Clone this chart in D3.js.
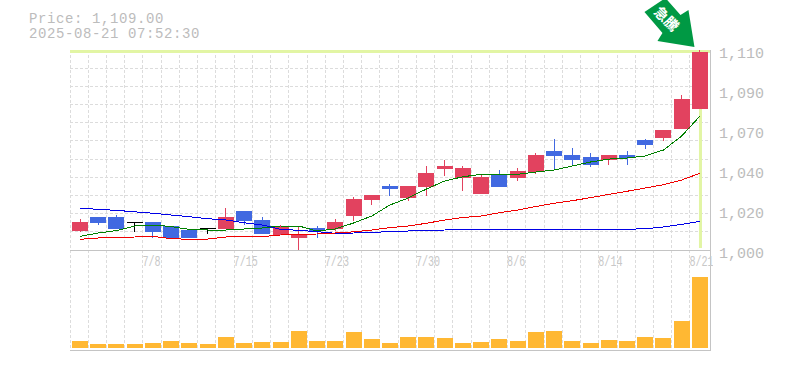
<!DOCTYPE html>
<html>
<head>
<meta charset="utf-8">
<script src="https://cdn.jsdelivr.net/npm/d3@7"></script>
<style>
html, body { margin: 0; padding: 0; background: #fff; }
svg { display: block; }
text { font-family: "Liberation Mono", monospace; fill: #bcbcbc; }
</style>
</head>
<body>
<div id="chart"></div>
<script>
const dates = ['7/2','7/3','7/4','7/7','7/8','7/9','7/10','7/11','7/14','7/15','7/16','7/17','7/18','7/22','7/23','7/24','7/25','7/28','7/29','7/30','7/31','8/1','8/4','8/5','8/6','8/7','8/8','8/12','8/13','8/14','8/15','8/18','8/19','8/20','8/21'];
const opens = [1010.45,1018.15,1018.15,1015.2,1015.4,1013.2,1011,1012.1,1011.55,1021.45,1016.5,1008.25,1006.6,1012.1,1011.55,1018.7,1027.5,1035.2,1028.6,1034.65,1044.55,1039.6,1030.8,1041.25,1039.6,1042.9,1054.45,1052.25,1051.15,1049.5,1052.25,1060.5,1061.6,1066.55,1077.55];
const closes = [1015.4,1014.85,1011.55,1015.2,1009.9,1006.6,1006.6,1012.1,1018.15,1015.95,1008.8,1013.2,1008.4,1010.45,1015.4,1028.05,1030.25,1033.55,1035.2,1042.35,1046.2,1045.1,1040.15,1034.65,1043.45,1052.25,1051.7,1049.5,1046.75,1052.25,1050.6,1057.75,1066,1083.05,1109];
const highs = [1017,1018.15,1019.25,1015.2,1015.4,1013.2,1011,1012.1,1023.1,1021.45,1018.15,1013.75,1013.2,1013.2,1017.05,1029.15,1030.25,1036.3,1035.2,1046.2,1049.5,1046.2,1041.8,1044,1045.1,1053.35,1061.05,1056.1,1053.35,1052.25,1054.45,1061.05,1066,1085.25,1110];
const lows = [1009.9,1013.75,1011.55,1009.9,1006.6,1006.6,1006.6,1008.8,1011.55,1013.75,1008.8,1008.25,1000,1006.6,1010.45,1015.95,1024.75,1029.7,1026.95,1029.7,1040.7,1032.45,1030.8,1034.65,1038,1041.8,1044,1046.75,1045.65,1046.75,1046.75,1055.55,1060,1066.55,1077.55];
const volumes = [7,4,4,4,5,7,5,4,11,5,6,6,17,7,7,16,9,5,11,11,10,5,6,9,7,16,17,7,5,8,7,11,10,27,71];
const maShort = [1007.5,1009.35,1010.7,1013.2,1013.75,1012.9,1011.3,1011,1011,1011.55,1012.1,1013.2,1013.2,1010.45,1011.55,1014.85,1018.7,1024.75,1028.6,1033.55,1037.95,1040.3,1041.6,1041.6,1041.6,1042.9,1044,1046.2,1048.4,1050,1050.6,1051.7,1055,1062.7,1073.7];
const maMiddle = [1005.9,1006.6,1007,1007.15,1007.5,1006.2,1005.9,1006,1007.15,1007.4,1007.4,1008.25,1008.65,1008.8,1009.35,1010,1011,1012.3,1013.2,1014.7,1016.5,1017.9,1018.7,1020.5,1022,1023.9,1025.7,1027.1,1028.8,1030.6,1032.3,1034.1,1035.9,1038.5,1042.2];
const maLong = [1022.9,1022.4,1021.8,1021,1020.2,1019.25,1018.3,1017.2,1016.5,1015,1013.75,1011.4,1010.8,1010.1,1009.2,1009.35,1009.7,1010.1,1010.45,1010.8,1011,1011.2,1011.4,1011.4,1011.4,1011.4,1011.4,1011.4,1011.4,1011.4,1011.4,1011.7,1012.65,1014.1,1015.8];
const priceTicks = [1000,1022,1044,1066,1088,1110];
const priceLabels = ['1,000','1,020','1,040','1,070','1,090','1,110'];
const dateTicks = ['7/8','7/15','7/23','7/30','8/6','8/14','8/21'];

const width = 785, height = 370;
const plotLeft = 70, plotRight = 710, plotTop = 50, plotMid = 250, plotBottom = 350;

const svg = d3.select('#chart').append('svg')
    .attr('width', width)
    .attr('height', height);

// slots stop just short of the right border
const x = d3.scaleBand().domain(dates).range([plotLeft, 708.2]);
const y = d3.scaleLinear().domain([1000, 1110]).range([plotMid, plotTop]);
const yVol = d3.scaleLinear().domain([0, 71]).range([348, 277]);
const cx = d => x(d) + 10;

// grid
const grid = svg.append('g')
    .attr('stroke', '#dcdcdc')
    .attr('stroke-dasharray', '3,2')
    .attr('shape-rendering', 'crispEdges');
grid.selectAll('.v').data(dates).enter().append('line')
    .attr('class', 'v')
    .attr('x1', d => Math.floor(x(d)) + 0.5).attr('x2', d => Math.floor(x(d)) + 0.5)
    .attr('y1', plotTop).attr('y2', plotBottom);
grid.selectAll('.h').data(d3.range(1, 11)).enter().append('line')
    .attr('class', 'h')
    .attr('x1', plotLeft).attr('x2', plotRight)
    .attr('y1', i => Math.floor(plotTop + i * (plotMid - plotTop) / 11) + 0.5)
    .attr('y2', i => Math.floor(plotTop + i * (plotMid - plotTop) / 11) + 0.5);

// highlight of the latest high
svg.append('rect').attr('x', plotLeft).attr('y', plotTop).attr('width', plotRight - plotLeft).attr('height', 3).attr('fill', '#e2f5a4');
svg.append('rect').attr('x', cx('8/21') - 1).attr('y', plotTop).attr('width', 3).attr('height', 198).attr('fill', '#e2f5a4');

// frame
const frame = svg.append('g').attr('stroke', '#c4c4c4').attr('shape-rendering', 'crispEdges');
frame.append('line').attr('x1', plotLeft).attr('x2', plotRight).attr('y1', plotMid + 0.5).attr('y2', plotMid + 0.5);
frame.append('line').attr('x1', plotLeft).attr('x2', plotRight).attr('y1', plotBottom + 0.5).attr('y2', plotBottom + 0.5);
frame.append('line').attr('x1', plotRight + 0.5).attr('x2', plotRight + 0.5).attr('y1', plotTop).attr('y2', plotBottom + 1);

// volume
svg.append('g').selectAll('rect').data(volumes).enter().append('rect')
    .attr('x', (d, i) => Math.round(x(dates[i]) + 2))
    .attr('width', 16)
    .attr('y', d => yVol(d))
    .attr('height', d => yVol(0) - yVol(d))
    .attr('fill', '#ffb833');

// candles
const candleColor = i => closes[i] > opens[i] ? '#e2425f' : closes[i] < opens[i] ? '#4169e1' : '#000';
const candles = svg.append('g').attr('shape-rendering', 'crispEdges');
candles.selectAll('line').data(dates).enter().append('line')
    .attr('x1', d => Math.floor(cx(d)) + 0.5).attr('x2', d => Math.floor(cx(d)) + 0.5)
    .attr('y1', (d, i) => y(highs[i]))
    .attr('y2', (d, i) => y(lows[i]))
    .attr('stroke', (d, i) => candleColor(i));
candles.selectAll('rect').data(dates).enter().append('rect')
    .attr('x', d => Math.round(x(d) + 2))
    .attr('width', 16)
    .attr('y', (d, i) => y(Math.max(opens[i], closes[i])))
    .attr('height', (d, i) => Math.max(1, Math.abs(y(opens[i]) - y(closes[i]))))
    .attr('fill', (d, i) => candleColor(i));

// moving averages
const line = d3.line().x((d, i) => cx(dates[i])).y(d => y(d));
[[maLong, '#0000e6'], [maMiddle, '#f00000'], [maShort, '#008000']].forEach(([values, color]) => {
    svg.append('path')
        .attr('d', line(values))
        .attr('fill', 'none')
        .attr('stroke', color)
        .attr('shape-rendering', 'crispEdges');
});

// price axis
const yAxis = d3.axisRight(y)
    .tickValues(priceTicks)
    .tickFormat((d, i) => priceLabels[i])
    .tickSize(0)
    .tickPadding(9);
const yG = svg.append('g')
    .attr('transform', `translate(${plotRight},0)`)
    .call(yAxis);
yG.select('.domain').remove();
yG.selectAll('text')
    .attr('dy', 7)
    .style('font-family', '"Liberation Mono", monospace')
    .style('font-size', '15px')
    .style('fill', '#bcbcbc');

// date axis, labels start at the left edge of their slot
svg.append('defs').append('clipPath').attr('id', 'dateClip')
    .append('rect').attr('x', plotLeft).attr('y', plotMid).attr('width', plotRight - plotLeft + 3).attr('height', 30);
svg.append('g').attr('clip-path', 'url(#dateClip)')
    .selectAll('text').data(dateTicks).enter().append('text')
    .attr('transform', d => `translate(${x(d) - 0.5},266) scale(0.72,1)`)
    .style('font-size', '14px')
    .style('fill', '#c8c8c8')
    .text(d => d);

// price readout
svg.append('text').attr('x', 29).attr('y', 23).style('font-size', '14px').style('letter-spacing', '0.6px').text('Price: 1,109.00');
svg.append('text').attr('x', 29).attr('y', 38).style('font-size', '14px').style('letter-spacing', '0.6px').text('2025-08-21 07:52:30');

// arrow on the latest candle
const arrow = svg.append('g').attr('transform', `translate(${cx('8/21') - 5.5},${y(1110) - 3})`);
arrow.append('path')
    .attr('d', d3.line()([[0, 0], [-6, -37], [-14, -32], [-29, -49], [-50, -35], [-32, -14], [-37, -6]]) + 'Z')
    .attr('fill', '#009944');
arrow.append('text')
    .attr('transform', 'translate(-28,-28) rotate(45)')
    .attr('text-anchor', 'middle')
    .attr('dy', 5)
    .style('font-family', '"Noto Sans CJK JP", sans-serif')
    .style('font-size', '14px')
    .style('font-weight', 'bold')
    .style('fill', '#fff')
    .text('急騰');
</script>
</body>
</html>
